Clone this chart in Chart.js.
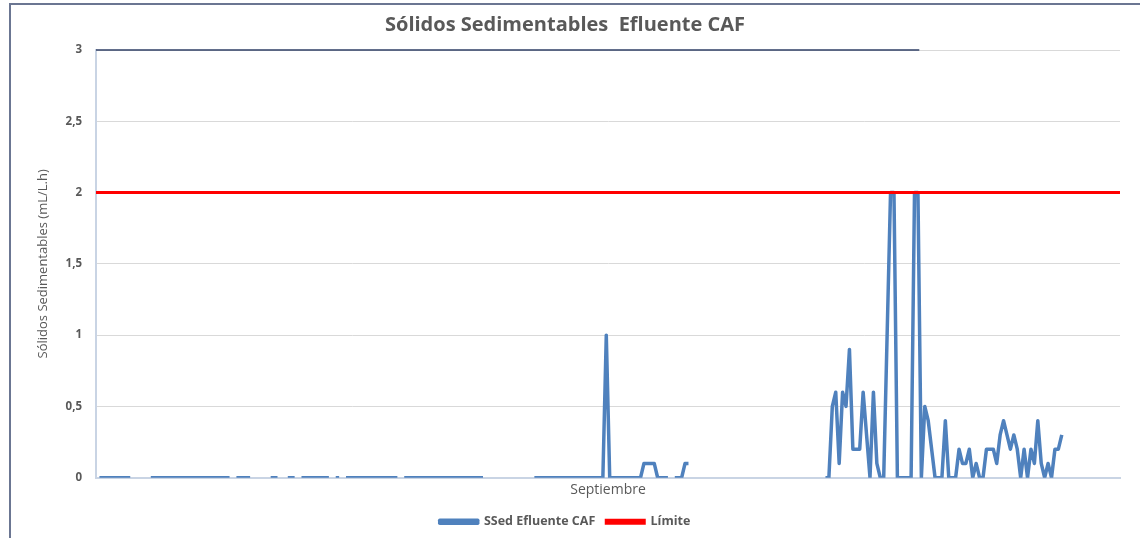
<!DOCTYPE html>
<html>
<head>
<meta charset="utf-8">
<script src="https://cdn.jsdelivr.net/npm/chart.js@4/dist/chart.umd.min.js"></script>
<style>
  html, body { margin: 0; padding: 0; background: #fff; }
  #wrap { width: 1140px; height: 538px; position: relative; }
</style>
</head>
<body>
<div id="wrap"><canvas id="sedChart" width="1140" height="538"></canvas></div>
<script>
const _ = null;

// lecturas de septiembre (una por punto del registro)
const NUM_LECTURAS = 300;
const lecturas = Array.from({ length: NUM_LECTURAS }, (_, i) => String(i + 1));

// SSed Efluente CAF (mL/L.h), null = sin dato
const ssedEfluente = [
  _, 0, 0, 0, 0, 0, 0, 0, 0, 0, 0, _, _, _, _, _, 0, 0, 0, 0,
  0, 0, 0, 0, 0, 0, 0, 0, 0, 0, 0, 0, 0, 0, 0, 0, 0, 0, 0, 0,
  _, 0, 0, 0, 0, 0, _, _, _, _, _, 0, 0, 0, _, _, 0, 0, 0, _,
  0, 0, 0, 0, 0, 0, 0, 0, 0, _, 0, 0, _, 0, 0, 0, 0, 0, 0, 0,
  0, 0, 0, 0, 0, 0, 0, 0, 0, _, 0, 0, 0, 0, 0, 0, 0, 0, 0, 0,
  0, 0, 0, 0, 0, 0, 0, 0, 0, 0, 0, 0, 0, 0, _, _, _, _, _, _,
  _, _, _, _, _, _, _, _, 0, 0, 0, 0, 0, 0, 0, 0, 0, 0, 0, 0,
  0, 0, 0, 0, 0, 0, 0, 0, 0, 1, 0, 0, 0, 0, 0, 0, 0, 0, 0, 0,
  0.1, 0.1, 0.1, 0.1, 0, 0, 0, 0, _, 0, 0, 0, 0.1, 0.1, _, _, _, _, _, _,
  _, _, _, _, _, _, _, _, _, _, _, _, _, _, _, _, _, _, _, _,
  _, _, _, _, _, _, _, _, _, _, _, _, _, 0, 0, 0.5, 0.6, 0.1, 0.6, 0.5,
  0.9, 0.2, 0.2, 0.2, 0.6, 0.3, 0, 0.6, 0.1, 0, 0, 1, 2, 2, 0, 0, 0, 0, 0, 2,
  2, 0, 0.5, 0.4, 0.2, 0, 0, 0, 0.4, 0, 0, 0, 0.2, 0.1, 0.1, 0.2, 0, 0.1, 0, 0,
  0.2, 0.2, 0.2, 0.1, 0.3, 0.4, 0.3, 0.2, 0.3, 0.2, 0, 0.2, 0, 0.2, 0.1, 0.4, 0.1, 0, 0.1, 0,
  0.2, 0.2, 0.3, _, _, _, _, _, _, _, _, _, _, _, _, _, _, _, _, _
];

const LIMITE = 2;
const yTicks = [0, 0.5, 1, 1.5, 2, 2.5, 3];

const GRIS = "#595959";
const FONT = "'Open Sans', sans-serif";

// marco exterior y borde superior oscuro del área de trazado
const framePlugin = {
  id: "frame",
  beforeDraw(chart) {
    const c = chart.ctx;
    c.save();
    c.strokeStyle = "#6b7692";
    c.lineWidth = 2;
    c.beginPath();
    c.moveTo(10, chart.height);
    c.lineTo(10, 4);
    c.lineTo(chart.width, 4);
    c.stroke();
    c.restore();
  },
  afterDatasetsDraw(chart) {
    const c = chart.ctx;
    const a = chart.chartArea;
    c.save();
    c.strokeStyle = "#2f3f66";
    c.lineWidth = 1.5;
    c.beginPath();
    c.moveTo(a.left, a.top);
    c.lineTo(a.left + (a.right - a.left) * 0.804, a.top);
    c.stroke();
    c.restore();
  }
};

const ctx = document.getElementById("sedChart").getContext("2d");

new Chart(ctx, {
  type: "line",
  data: {
    labels: lecturas,
    datasets: [{
      label: "SSed Efluente CAF",
      data: ssedEfluente,
      borderColor: "#4f81bd",
      backgroundColor: "#4f81bd",
      borderWidth: 3.5,
      pointRadius: 0,
      tension: 0,
      borderJoinStyle: "round",
      spanGaps: false,
      order: 2
    }, {
      label: "Límite",
      data: [{ x: lecturas[0], y: LIMITE }, { x: lecturas[NUM_LECTURAS - 1], y: LIMITE }],
      borderColor: "#ff0000",
      backgroundColor: "#ff0000",
      borderWidth: 3,
      pointRadius: 0,
      order: 1
    }]
  },
  options: {
    responsive: false,
    animation: false,
    layout: { padding: { left: 10, right: 20, top: 0, bottom: 0 } },
    plugins: {
      title: {
        display: true,
        text: "Sólidos Sedimentables  Efluente CAF",
        color: GRIS,
        font: { family: FONT, size: 20, weight: "bold" },
        padding: { top: 13, bottom: 13 }
      },
      legend: {
        position: "bottom",
        labels: {
          color: GRIS,
          font: { family: FONT, size: 12.5, weight: "bold" },
          boxWidth: 38,
          boxHeight: 3,
          padding: 11,
          sort: (a, b) => a.datasetIndex - b.datasetIndex
        }
      },
      tooltip: { enabled: false }
    },
    scales: {
      x: {
        offset: false,
        grid: { display: false, drawTicks: false },
        border: { color: "#c9d4e4", width: 2 },
        ticks: { display: false },
        title: {
          display: true,
          text: "Septiembre",
          color: GRIS,
          font: { family: FONT, size: 14 },
          padding: { top: 4, bottom: 6 }
        }
      },
      y: {
        min: 0,
        max: 3,
        afterFit(scale) { scale.width = 86; },
        afterBuildTicks(scale) { scale.ticks = yTicks.map(v => ({ value: v })); },
        grid: { color: "#d9d9d9", drawTicks: false },
        border: { color: "#c9d4e4", width: 2 },
        ticks: {
          color: GRIS,
          font: { family: FONT, size: 11.5, weight: "bold" },
          padding: 14,
          callback: v => String(v).replace(".", ",")
        },
        title: {
          display: true,
          text: "Sólidos Sedimentables (mL/L.h)",
          color: GRIS,
          font: { family: FONT, size: 13 },
          padding: { top: 25, bottom: 0 }
        }
      }
    }
  },
  plugins: [framePlugin]
});
</script>
</body>
</html>
